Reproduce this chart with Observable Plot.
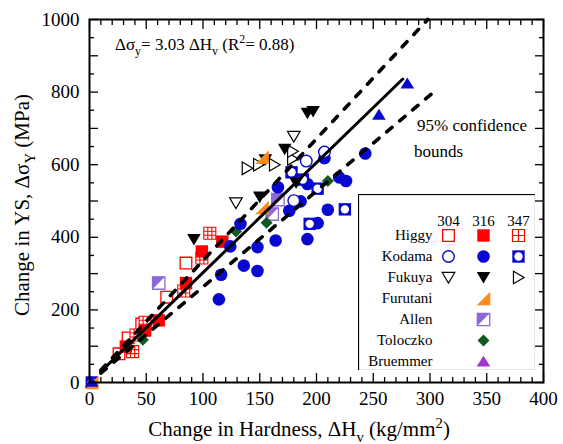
<!DOCTYPE html>
<html><head><meta charset="utf-8">
<script src="https://cdn.jsdelivr.net/npm/d3@7"></script>
<script src="https://cdn.jsdelivr.net/npm/@observablehq/plot@0.6"></script>
<style>
body{margin:0;background:#fff;}
#wrap{position:relative;width:563px;height:444px;background:#fff;}
#legend{position:absolute;left:358px;top:194px;}
#wrap svg, #wrap svg text{font-family:"Liberation Serif",serif !important;}
</style></head><body><div id="wrap"><div id="legend"></div></div>
<script>
// ---- data: [ΔHv (kg/mm²), ΔσY (MPa)] ----
const higgy304 = [[26,79],[34,123],[46,161],[68,235],[85,329]];
const higgy316 = [[32,99],[49,143],[61,171],[85,274],[99,361],[117,388]];
const higgy347 = [[38,85],[41,131],[49,166],[83,252],[99,343],[106,411]];
const kodama304 = [[180,501],[191,610],[207,635]];
const kodama316 = [[114,229],[116,297],[124,375],[133,437],[136,322],[148,307],[148,373],[164,391],[166,538],[176,473],[186,499],[192,547],[192,395],[201,439],[207,618],[210,476],[220,565],[226,555],[243,631]];
const kodama347 = [[2,0],[178,579],[188,559],[194,437],[201,534],[225,477]];
const fukuya304 = [[129,495],[180,678]];
const fukuya316 = [[92,394],[150,511],[155,614],[172,643],[182,550],[192,742],[197,747]];
const fukuya347 = [[139,590],[149,600],[163,600],[179,616],[179,637]];
const furutani316 = [[2,0],[152,482],[152,621]];
const allen316 = [[61,274],[161,464],[166,504]];
const toloczko316 = [[2,1],[47,118],[129,416],[156,440],[210,555]];
const bruemmer316 = [[2,2],[255,738],[280,824]];

// fit and 95% confidence bounds (endpoints)
const fitLine = [[10,30],[276,836]];
const upperBound = [[10,34],[298,1000]];
const lowerBound = [[10,26],[304,802]];

const xLabelTicks = [0,50,100,150,200,250,300,350,400];
const yLabelTicks = [0,200,400,600,800,1000];
const legendRows = ["Higgy","Kodama","Fukuya","Furutani","Allen","Toloczko","Bruemmer"];
const legendCols = ["304","316","347"];
const legendItems = [
  ["Higgy","304","higgy304"],["Higgy","316","higgy316"],["Higgy","347","higgy347"],
  ["Kodama","304","kodama304"],["Kodama","316","kodama316"],["Kodama","347","kodama347"],
  ["Fukuya","304","fukuya304"],["Fukuya","316","fukuya316"],["Fukuya","347","fukuya347"],
  ["Furutani","316","furutani316"],["Allen","316","allen316"],
  ["Toloczko","316","toloczko316"],["Bruemmer","316","bruemmer316"]
];

// ---- styles ----
const FONT = "Liberation Serif";
const red="#ff0000", blue="#0808d0", orange="#ff8a1c", purple="#8b69d9", green="#0e5a1f", violet="#a035cc";
function sym(draw){return {draw(ctx,size){const h=Math.sqrt(size/Math.PI); draw(ctx,h);}};}
function box(c,h){c.moveTo(-h,-h);c.lineTo(h,-h);c.lineTo(h,h);c.lineTo(-h,h);c.closePath();}
const sqSym = sym((c,h)=>box(c,h));
const grid3Sym = sym((c,h)=>{box(c,h);const t=h/3;[-t,t].forEach(v=>{c.moveTo(v,-h);c.lineTo(v,h);c.moveTo(-h,v);c.lineTo(h,v);});});
const grid2Sym = sym((c,h)=>{box(c,h);c.moveTo(0,-h);c.lineTo(0,h);c.moveTo(-h,0);c.lineTo(h,0);});
const triDown = sym((c,h)=>{c.moveTo(-h,-0.8*h);c.lineTo(h,-0.8*h);c.lineTo(0,0.9*h);c.closePath();});
const triRight = sym((c,h)=>{c.moveTo(-0.8*h,-h);c.lineTo(0.9*h,0);c.lineTo(-0.8*h,h);c.closePath();});
const triUp = sym((c,h)=>{c.moveTo(-h,0.75*h);c.lineTo(h,0.75*h);c.lineTo(0,-0.85*h);c.closePath();});
const halfTri = sym((c,h)=>{c.moveTo(-h,h);c.lineTo(h,h);c.lineTo(h,-h);c.closePath();});
const allenTri = sym((c,h)=>{c.moveTo(-h,-h);c.lineTo(h,-h);c.lineTo(-h,h);c.closePath();});
const diamondSym = sym((c,h)=>{c.moveTo(0,-h);c.lineTo(h,0);c.lineTo(0,h);c.lineTo(-h,0);c.closePath();});

const styles = {
  higgy304:[{symbol:sqSym,r:5.8,fill:"white",stroke:red,sw:1.3}],
  higgy316:[{symbol:sqSym,r:6.2,fill:red}],
  higgy347:[{symbol:grid3Sym,r:6,fill:"white",stroke:red,sw:1.1}],
  kodama304:[{symbol:"circle",r:5.8,fill:"white",stroke:blue,sw:1.4}],
  kodama316:[{symbol:"circle",r:6.3,fill:blue}],
  kodama347:[{symbol:sqSym,r:6.2,fill:blue},{symbol:"circle",r:4.2,fill:"white"}],
  fukuya304:[{symbol:triDown,r:6.3,fill:"white",stroke:"black",sw:1.2}],
  fukuya316:[{symbol:triDown,r:6.8,fill:"black"}],
  fukuya347:[{symbol:triRight,r:6.3,fill:"white",stroke:"black",sw:1.2}],
  furutani316:[{symbol:halfTri,r:6.8,fill:orange}],
  allen316:[{symbol:sqSym,r:6.2,fill:"white",stroke:purple,sw:1.3},{symbol:allenTri,r:6.2,fill:purple}],
  toloczko316:[{symbol:diamondSym,r:6,fill:green}],
  bruemmer316:[{symbol:triUp,r:6.8,fill:blue}]
};
const legendStyles = {...styles,
  higgy347:[{symbol:grid2Sym,r:6,fill:"white",stroke:red,sw:1.2}],
  bruemmer316:[{symbol:triUp,r:6.8,fill:violet}]
};
function seriesMarks(data, st, acc){
  return st.map(l=>Plot.dot(data,{...acc,symbol:l.symbol,r:l.r,fill:l.fill??"none",stroke:l.stroke??"none",strokeWidth:l.sw??1}));
}
const seriesData = {higgy304,higgy316,higgy347,kodama304,kodama316,kodama347,fukuya304,fukuya316,fukuya347,furutani316,allen316,toloczko316,bruemmer316};
const order = ["higgy304","higgy347","higgy316","allen316","toloczko316","kodama316","kodama304","kodama347","fukuya304","fukuya347","fukuya316","furutani316","bruemmer316"];
const pt = {x:d=>d[0],y:d=>d[1]};

const xMinor = d3.range(0,401,10).filter(v=>v%50!==0), xMajor = d3.range(0,401,50);
const yMinor = d3.range(0,1001,50).filter(v=>v%100!==0), yMajor = d3.range(0,1001,100);
const tickOpts = {tickFormat:()=>"",label:null,strokeWidth:1.3};

const plot = Plot.plot({
  width:563,height:444,marginLeft:89,marginRight:20,marginTop:19,marginBottom:62,
  style:{fontFamily:FONT,fontSize:"19px",color:"#000",background:"#fff",overflow:"visible"},
  x:{domain:[0,400],label:null},
  y:{domain:[0,1000],label:null},
  marks:[
    ...order.flatMap(k=>seriesMarks(seriesData[k],styles[k],pt)),
    Plot.line(fitLine,{...pt,stroke:"black",strokeWidth:3}),
    Plot.line(upperBound,{...pt,stroke:"black",strokeWidth:3.6,strokeDasharray:"7,10",strokeLinecap:"round"}),
    Plot.line(lowerBound,{...pt,stroke:"black",strokeWidth:3.6,strokeDasharray:"7,10",strokeLinecap:"round"}),
    Plot.axisX(xLabelTicks,{tickSize:0,tickPadding:9,label:null,fontSize:19,fontFamily:FONT,tickFormat:d=>String(d)}),
    Plot.axisY(yLabelTicks,{tickSize:0,tickPadding:10,label:null,fontSize:19,fontFamily:FONT,tickFormat:d=>String(d)}),
    Plot.axisX(xMinor,{anchor:"bottom",tickSize:-5,...tickOpts}),
    Plot.axisX(xMajor,{anchor:"bottom",tickSize:-9,...tickOpts}),
    Plot.axisX(xMinor,{anchor:"top",tickSize:-5,...tickOpts}),
    Plot.axisX(xMajor,{anchor:"top",tickSize:-9,...tickOpts}),
    Plot.axisY(yMinor,{anchor:"left",tickSize:-5,...tickOpts}),
    Plot.axisY(yMajor,{anchor:"left",tickSize:-9,...tickOpts}),
    Plot.axisY(yMinor,{anchor:"right",tickSize:-5,...tickOpts}),
    Plot.axisY(yMajor,{anchor:"right",tickSize:-9,...tickOpts}),
    Plot.frame({stroke:"black",strokeWidth:2})
  ]
});
document.getElementById("wrap").prepend(plot);

// rich text (sub/superscripts)
const svg = d3.select(plot);
function addText(x,y,parts,size,anchor="start",rotate=0){
  const t = svg.append("text").attr("font-family",FONT).attr("font-size",size)
    .attr("text-anchor",anchor).attr("fill","#000").attr("transform",`translate(${x},${y}) rotate(${rotate})`);
  let off = 0;
  for (const [s,kind] of parts){
    const ts = t.append("tspan").text(s);
    let target = kind==="sub" ? 0.3*size : kind==="sup" ? -0.4*size : 0;
    if (target!==off) ts.attr("dy",target-off);
    off = target;
    if (kind) ts.attr("font-size",0.7*size);
  }
  return t;
}
addText(115,50,[["Δσ"],["y","sub"],["= 3.03 ΔH"],["v","sub"],[" (R"],["2","sup"],["= 0.88)"]],17);
addText(417,131,[["95% confidence"]],17);
addText(414,157,[["bounds"]],17);
addText(299,436,[["Change in Hardness, ΔH"],["v","sub"],[" (kg/mm"],["2","sup"],[")"]],21,"middle");
addText(29,205,[["Change in YS, Δσ"],["Y","sub"],[" (MPa)"]],21,"middle",-90);

// legend
const legend = Plot.plot({
  width:177,height:176,margin:0,
  style:{fontFamily:FONT,fontSize:"15px",color:"#000",background:"#fff"},
  x:{type:"point",domain:legendCols,range:[89,160],padding:0,axis:null},
  y:{type:"point",domain:legendRows,range:[39,168],padding:0,axis:null},
  marks:[
    Plot.text(legendCols,{x:d=>d,frameAnchor:"top",dy:21,text:d=>d,fontSize:15,fontFamily:FONT}),
    Plot.text(legendRows,{y:d=>d,frameAnchor:"left",dx:74,textAnchor:"end",text:d=>d,fontSize:15,fontFamily:FONT}),
    ...legendItems.flatMap(([row,col,key])=>seriesMarks([[col,row]],legendStyles[key],{x:d=>d[0],y:d=>d[1]})),
    Plot.frame({stroke:"black",strokeWidth:1.2})
  ]
});
document.getElementById("legend").append(legend);
</script></body></html>
